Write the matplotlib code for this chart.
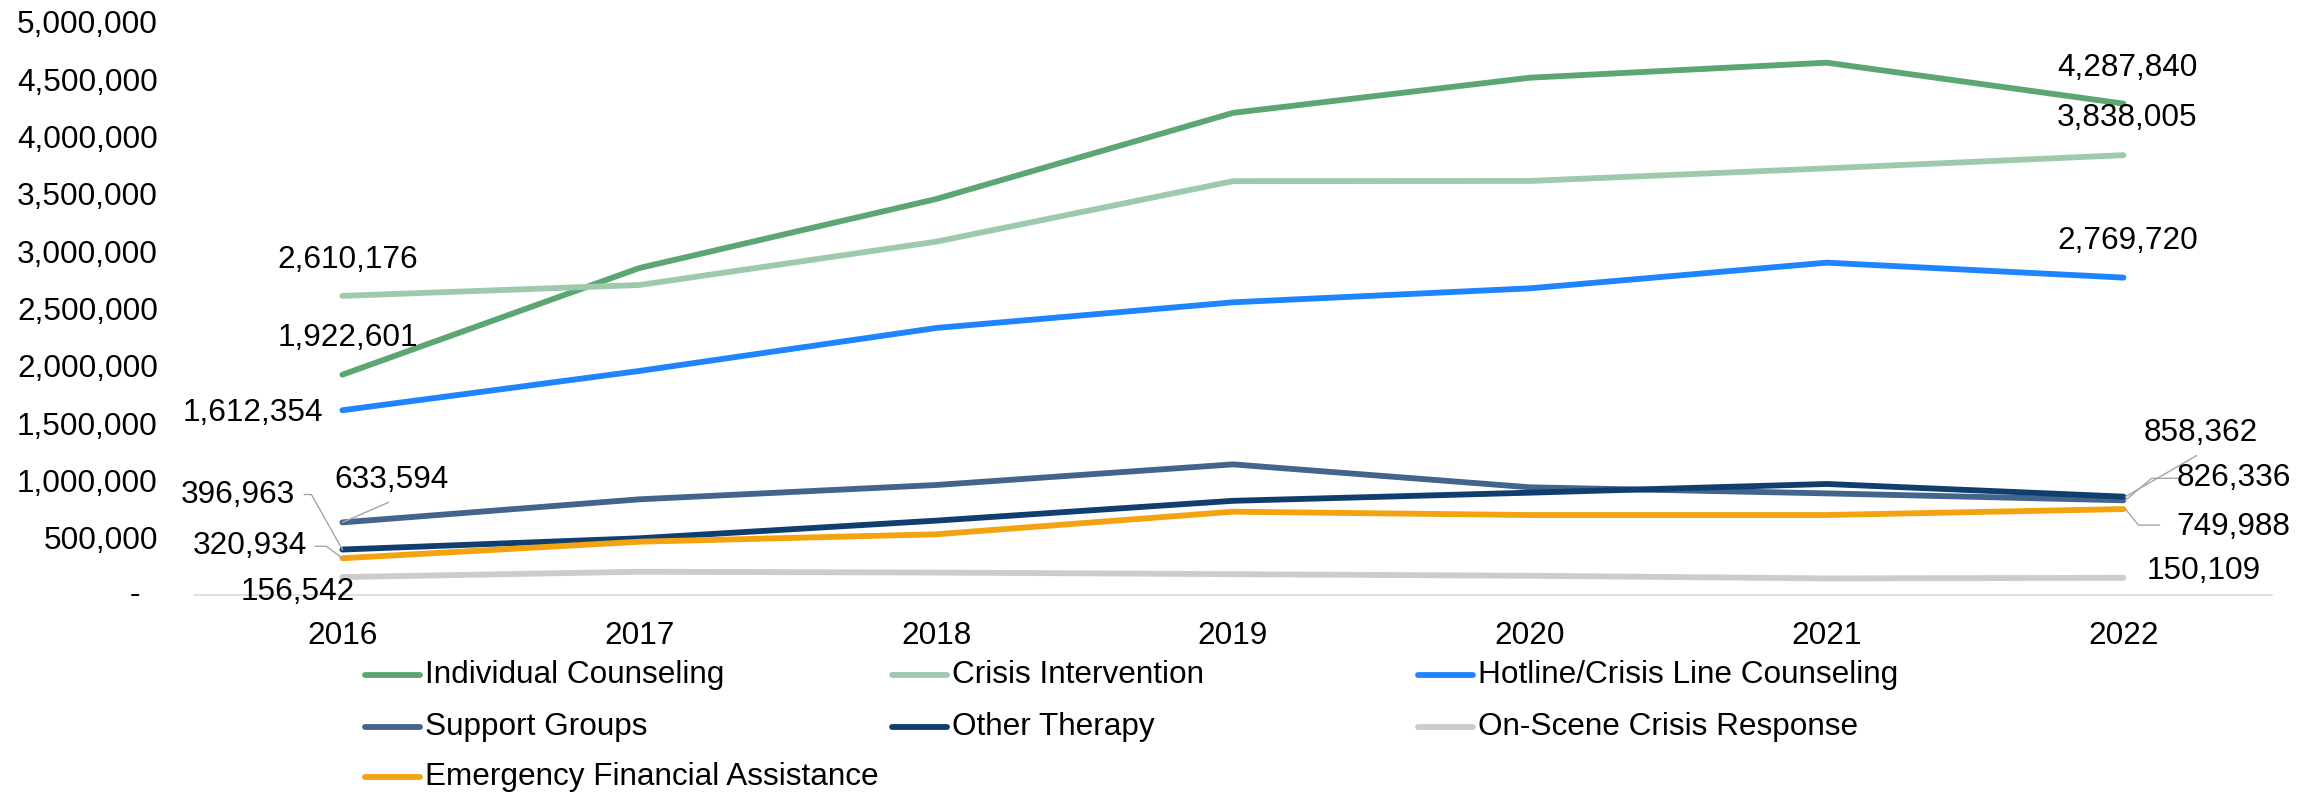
"""Victim services by type, 2016-2022 (line chart, Excel-style)."""

import matplotlib

matplotlib.use("Agg")

import matplotlib.pyplot as plt
from matplotlib.lines import Line2D
from matplotlib.ticker import FuncFormatter
from matplotlib.transforms import Affine2D, blended_transform_factory

plt.rcParams["font.family"] = ["Liberation Sans", "DejaVu Sans"]

years = ["2016", "2017", "2018", "2019", "2020", "2021", "2022"]

individual_counseling = [1922601, 2853000, 3455000, 4207000, 4514000, 4645000, 4287840]
crisis_intervention = [2610176, 2705000, 3083000, 3611000, 3613000, 3723000, 3838005]
hotline_counseling = [1612354, 1955000, 2330000, 2554000, 2676000, 2900000, 2769720]
support_groups = [633594, 835000, 960000, 1140000, 940000, 887000, 826336]
other_therapy = [396963, 495000, 649000, 822000, 893000, 969000, 858362]
on_scene_response = [156542, 203000, 196000, 182000, 168000, 145000, 150109]
emergency_assistance = [320934, 465000, 530000, 727000, 698000, 698000, 749988]

series_names = [
    "Individual Counseling",
    "Crisis Intervention",
    "Hotline/Crisis Line Counseling",
    "Support Groups",
    "Other Therapy",
    "On-Scene Crisis Response",
    "Emergency Financial Assistance",
]
series_values = [
    individual_counseling,
    crisis_intervention,
    hotline_counseling,
    support_groups,
    other_therapy,
    on_scene_response,
    emergency_assistance,
]
series_colors = ["#5BA673", "#9DCAAB", "#1F85FF", "#41658D", "#103E6F", "#CCCCCC", "#F2A30F"]

FS = 22.7
LW = 4.2
LEADER = "#A6A6A6"

# (series, year index, dx, dy, ha, leader) - offsets in pixels from the point
labels = [
    (0, 0, 5, 37, "center", None),
    (1, 0, 5, 36, "center", None),
    (2, 0, -19, -3, "right", None),
    (3, 0, 49, 42, "center", [(46, 20), (0, 0)]),
    (4, 0, -105, 55, "center", [(-38, 55), (-31, 55), (0, 0)]),
    (6, 0, -93, 12, "center", [(-27, 12), (-16, 12), (0, 0)]),
    (5, 0, -45, -15, "center", None),
    (0, 6, 4, 36, "center", None),
    (1, 6, 4, 37, "center", None),
    (2, 6, 4, 37, "center", None),
    (4, 6, 77, 64, "center", [(73, 41), (2, 0)]),
    (3, 6, 110, 22, "center", [(54, 22), (28, 22), (2, 0)]),
    (6, 6, 110, -18, "center", [(36, -16), (15, -16), (2, 0)]),
    (5, 6, 80, 7, "center", None),
]

fig = plt.figure(figsize=(23.23, 7.94), dpi=100)
ax = fig.add_axes([0.0835, 0.2506, 0.978 - 0.0835, 0.9723 - 0.2506])

x = list(range(len(years)))
for name, vals, color in zip(series_names, series_values, series_colors):
    ax.plot(x, vals, color=color, linewidth=LW, solid_capstyle="round",
            solid_joinstyle="round", label=name)

ax.set_xlim(-0.5, len(years) - 0.5)
ax.set_ylim(0, 5_000_000)
ax.set_xticks(x)
ax.set_xticklabels(years)
ax.set_yticks(range(0, 5_000_001, 500_000))
ax.yaxis.set_major_formatter(FuncFormatter(lambda v, _: f"{v:,.0f}" if v else ""))
ax.tick_params(axis="both", length=0, labelsize=FS)
ax.tick_params(axis="y", pad=26)
ax.tick_params(axis="x", pad=18.5)

for side in ("left", "top", "right"):
    ax.spines[side].set_visible(False)
ax.spines["bottom"].set_color("#D9D9D9")
ax.spines["bottom"].set_linewidth(1.2)

# zero tick shown as a dash, Excel accounting style
ax.text(135 / 2323, 0, "-", transform=blended_transform_factory(fig.transFigure, ax.transData),
        ha="center", va="center", fontsize=FS)

# data labels with leader lines
for si, yi, dx, dy, ha, leader in labels:
    v = series_values[si][yi]
    ax.annotate(f"{v:,}", xy=(yi, v), xytext=(dx, dy), textcoords="offset pixels",
                ha=ha, va="center", fontsize=FS, zorder=5)
    if leader:
        px, py = ax.transData.transform((yi, v))
        ax.add_line(Line2D([p[0] for p in leader], [p[1] for p in leader], color=LEADER,
                           linewidth=1.0, transform=Affine2D().translate(px, py), zorder=4))

# legend laid out like the original (3 columns, row-major)
col_x = [365, 892, 1418]
row_y = [675, 727, 777]
W, H = 2323, 794
for i, (name, color) in enumerate(zip(series_names, series_colors)):
    cx, ry = col_x[i % 3], row_y[i // 3]
    fig.add_artist(Line2D([cx / W, (cx + 55) / W], [1 - ry / H, 1 - ry / H], color=color,
                          linewidth=LW, solid_capstyle="round", transform=fig.transFigure))
    fig.text((cx + 60) / W, 1 - ry / H, name, ha="left", va="center", fontsize=FS)

fig.savefig("out.png", dpi=100)
